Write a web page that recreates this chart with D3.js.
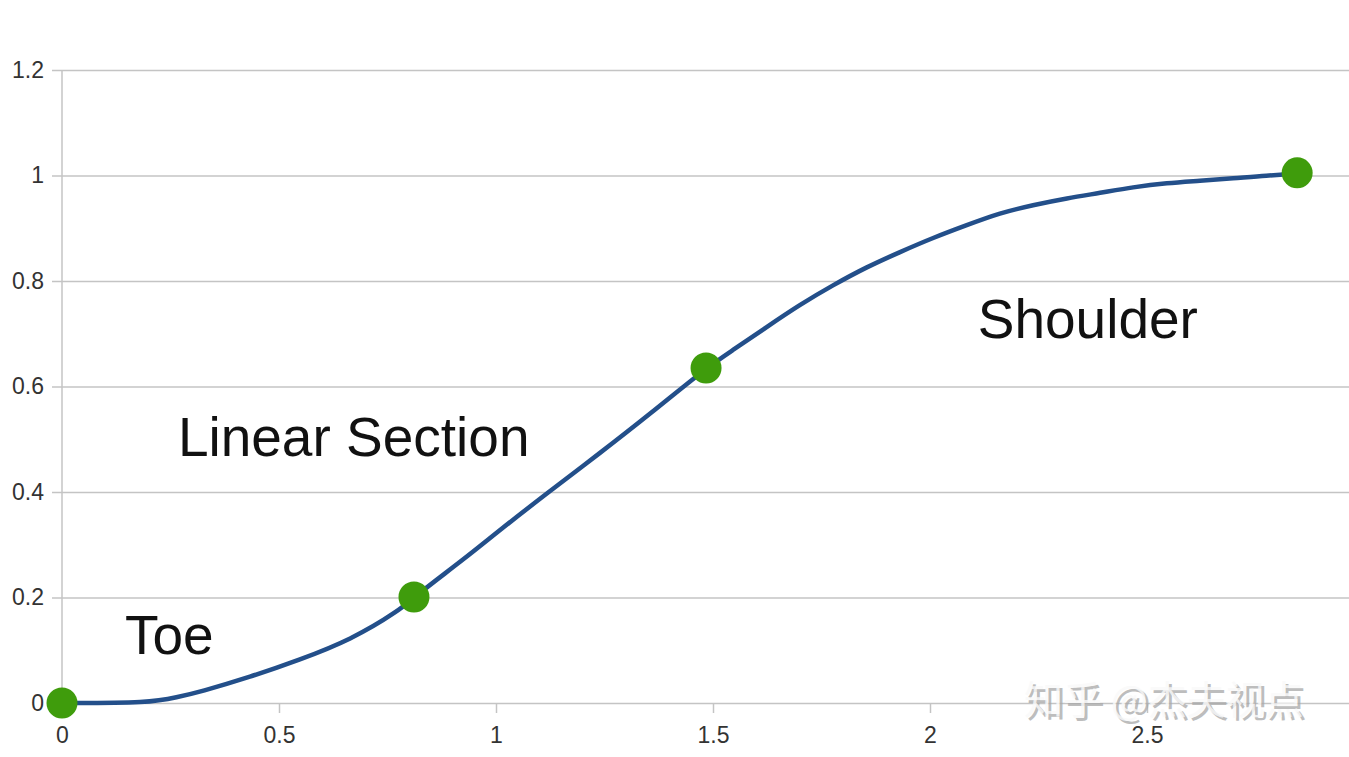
<!DOCTYPE html>
<html>
<head>
<meta charset="utf-8">
<script src="https://cdn.jsdelivr.net/npm/d3@7"></script>
<style>
  html, body { margin: 0; padding: 0; background: #fff; }
  svg { display: block; }
</style>
</head>
<body>
<svg id="chart" width="1349" height="757"></svg>
<script>
// ---- data ----
const curveX = [0, 0.203, 0.265, 0.318, 0.433, 0.548, 0.664, 0.779, 0.811, 0.933, 1.009, 1.118, 1.240, 1.355, 1.484, 1.546, 1.624, 1.700, 1.776, 1.855, 1.931, 2.007, 2.085, 2.161, 2.237, 2.316, 2.392, 2.468, 2.546, 2.622, 2.698, 2.776, 2.846];
const curveY = [0, 0, 0.011, 0.021, 0.049, 0.082, 0.119, 0.176, 0.201, 0.277, 0.328, 0.398, 0.474, 0.548, 0.635, 0.669, 0.713, 0.755, 0.792, 0.827, 0.855, 0.882, 0.906, 0.929, 0.944, 0.957, 0.967, 0.978, 0.986, 0.990, 0.995, 0.999, 1.005];
const markerX = [0, 0.811, 1.484, 2.846];
const markerY = [0, 0.201, 0.635, 1.005];
const xTicks = [0, 0.5, 1, 1.5, 2, 2.5];
const xTickLabels = ["0", "0.5", "1", "1.5", "2", "2.5"];
const yTicks = [0, 0.2, 0.4, 0.6, 0.8, 1, 1.2];
const yTickLabels = ["0", "0.2", "0.4", "0.6", "0.8", "1", "1.2"];
const annoText = ["Toe", "Linear Section", "Shoulder"];
const annoX = [0.145, 0.267, 2.11];
const annoY = [0.093, 0.469, 0.691];
const watermark = "知乎 @杰夫视点";

// ---- layout ----
const svg = d3.select("#chart");
const W = 1349;
const x = d3.scaleLinear().domain([0, 2.5]).range([62, 1147]);
const y = d3.scaleLinear().domain([0, 1.2]).range([703, 70]);

const gridColor = "#c4c4c4";
const labelColor = "#333";
const font = "'Liberation Sans', Arial, sans-serif";

// horizontal gridlines (y axis)
const yAxis = d3.axisLeft(y)
  .tickValues(yTicks)
  .tickFormat((d, i) => yTickLabels[i])
  .tickSize(-(W - 62))
  .tickPadding(18);
const gy = svg.append("g").attr("transform", "translate(62,0)").call(yAxis);
gy.select(".domain").remove();
gy.selectAll(".tick line").attr("stroke", gridColor).attr("stroke-width", 1.5).attr("x1", -10);
gy.selectAll(".tick text").attr("fill", labelColor).attr("font-family", font).attr("font-size", 23).attr("x", -18);

// vertical axis line
svg.append("line")
  .attr("x1", x(0)).attr("x2", x(0))
  .attr("y1", y(1.2)).attr("y2", y(0) + 10)
  .attr("stroke", gridColor).attr("stroke-width", 1.5);

// x axis ticks & labels
const xAxis = d3.axisBottom(x)
  .tickValues(xTicks)
  .tickFormat((d, i) => xTickLabels[i])
  .tickSize(10)
  .tickPadding(14);
const gx = svg.append("g").attr("transform", `translate(0,${y(0)})`).call(xAxis);
gx.select(".domain").remove();
gx.selectAll(".tick line").attr("stroke", gridColor).attr("stroke-width", 1.5);
gx.selectAll(".tick text").attr("fill", labelColor).attr("font-family", font).attr("font-size", 23);

// watermark
const wm = svg.append("g").attr("font-family", "'Noto Sans CJK SC', sans-serif").attr("font-size", 39);
wm.append("text").attr("x", 1027).attr("y", 717).attr("fill", "#a8a8a8").attr("opacity", 0.75).text(watermark);
wm.append("text").attr("x", 1024).attr("y", 714).attr("fill", "#fafafa").attr("opacity", 0.8).text(watermark);

// curve
const pts = curveX.map((v, i) => [v, curveY[i]]);
const line = d3.line().x(d => x(d[0])).y(d => y(d[1])).curve(d3.curveBasis);
svg.append("path")
  .datum(pts)
  .attr("d", line)
  .attr("fill", "none")
  .attr("stroke", "#234f8a")
  .attr("stroke-width", 4.5)
  .attr("stroke-linejoin", "round");

// markers
svg.selectAll("circle.marker")
  .data(markerX.map((v, i) => [v, markerY[i]]))
  .join("circle")
  .attr("class", "marker")
  .attr("cx", d => x(d[0]))
  .attr("cy", d => y(d[1]))
  .attr("r", 15.5)
  .attr("fill", "#3f9c0c");

// annotations
svg.selectAll("text.anno")
  .data(annoText)
  .join("text")
  .attr("class", "anno")
  .attr("x", (d, i) => x(annoX[i]))
  .attr("y", (d, i) => y(annoY[i]))
  .attr("font-family", font)
  .attr("font-size", 55)
  .attr("fill", "#111")
  .text(d => d);
</script>
</body>
</html>
